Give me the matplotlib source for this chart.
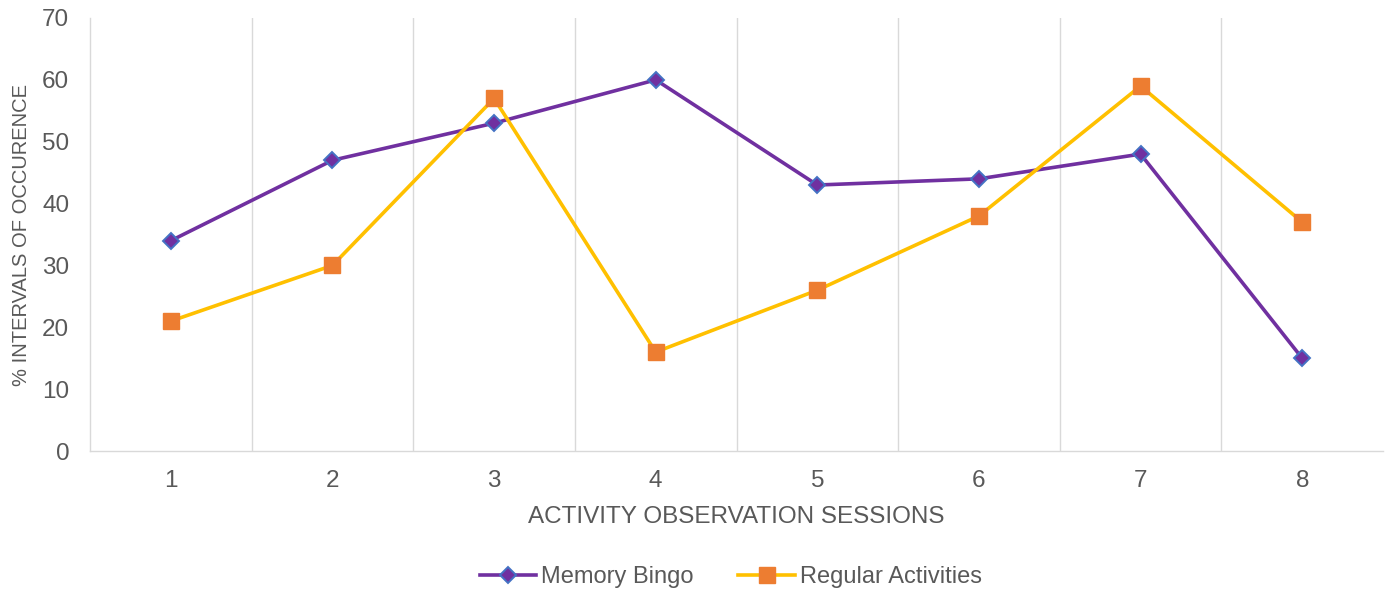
import matplotlib.pyplot as plt

plt.rcParams['font.family'] = ['Liberation Sans', 'DejaVu Sans']

sessions = [1, 2, 3, 4, 5, 6, 7, 8]
memory_bingo = [34, 47, 53, 60, 43, 44, 48, 15]
regular_activities = [21, 30, 57, 16, 26, 38, 59, 37]

text_color = '#595959'
grid_color = '#D9D9D9'

fig = plt.figure(figsize=(13.89, 5.94), dpi=100)
ax = fig.add_axes([0.0648, 0.2407, 0.9309, 0.729])

ax.plot(sessions, memory_bingo, color='#7030A0', linewidth=2.6,
        marker='D', markersize=8, markerfacecolor='#7030A0',
        markeredgecolor='#4472C4', markeredgewidth=1.4,
        label='Memory Bingo', zorder=3)
ax.plot(sessions, regular_activities, color='#FFC000', linewidth=2.6,
        marker='s', markersize=12, markerfacecolor='#ED7D31',
        markeredgecolor='#ED7D31', label='Regular Activities', zorder=3)

ax.set_xlim(0.5, 8.5)
ax.set_ylim(0, 70)
ax.set_yticks(range(0, 71, 10))
ax.set_xticks(sessions)

# vertical lines between categories
for b in [1.5, 2.5, 3.5, 4.5, 5.5, 6.5, 7.5]:
    ax.axvline(b, color=grid_color, linewidth=1, zorder=0)

for s in ['top', 'right']:
    ax.spines[s].set_visible(False)
for s in ['left', 'bottom']:
    ax.spines[s].set_color(grid_color)
    ax.spines[s].set_linewidth(1)

ax.tick_params(axis='both', length=0, labelsize=17.5, colors=text_color)
ax.tick_params(axis='x', pad=14)
ax.tick_params(axis='y', pad=15)

ax.set_xlabel('ACTIVITY OBSERVATION SESSIONS', fontsize=17.5, color=text_color, labelpad=10)
ax.set_ylabel('% INTERVALS OF OCCURENCE', fontsize=14.5, color=text_color, labelpad=8)

fig.legend(loc='center', bbox_to_anchor=(0.526, 0.028), ncol=2, frameon=False,
           fontsize=17, labelcolor=text_color, handlelength=2.4, handletextpad=0.2,
           columnspacing=1.9)

fig.savefig('out.png', dpi=100)
